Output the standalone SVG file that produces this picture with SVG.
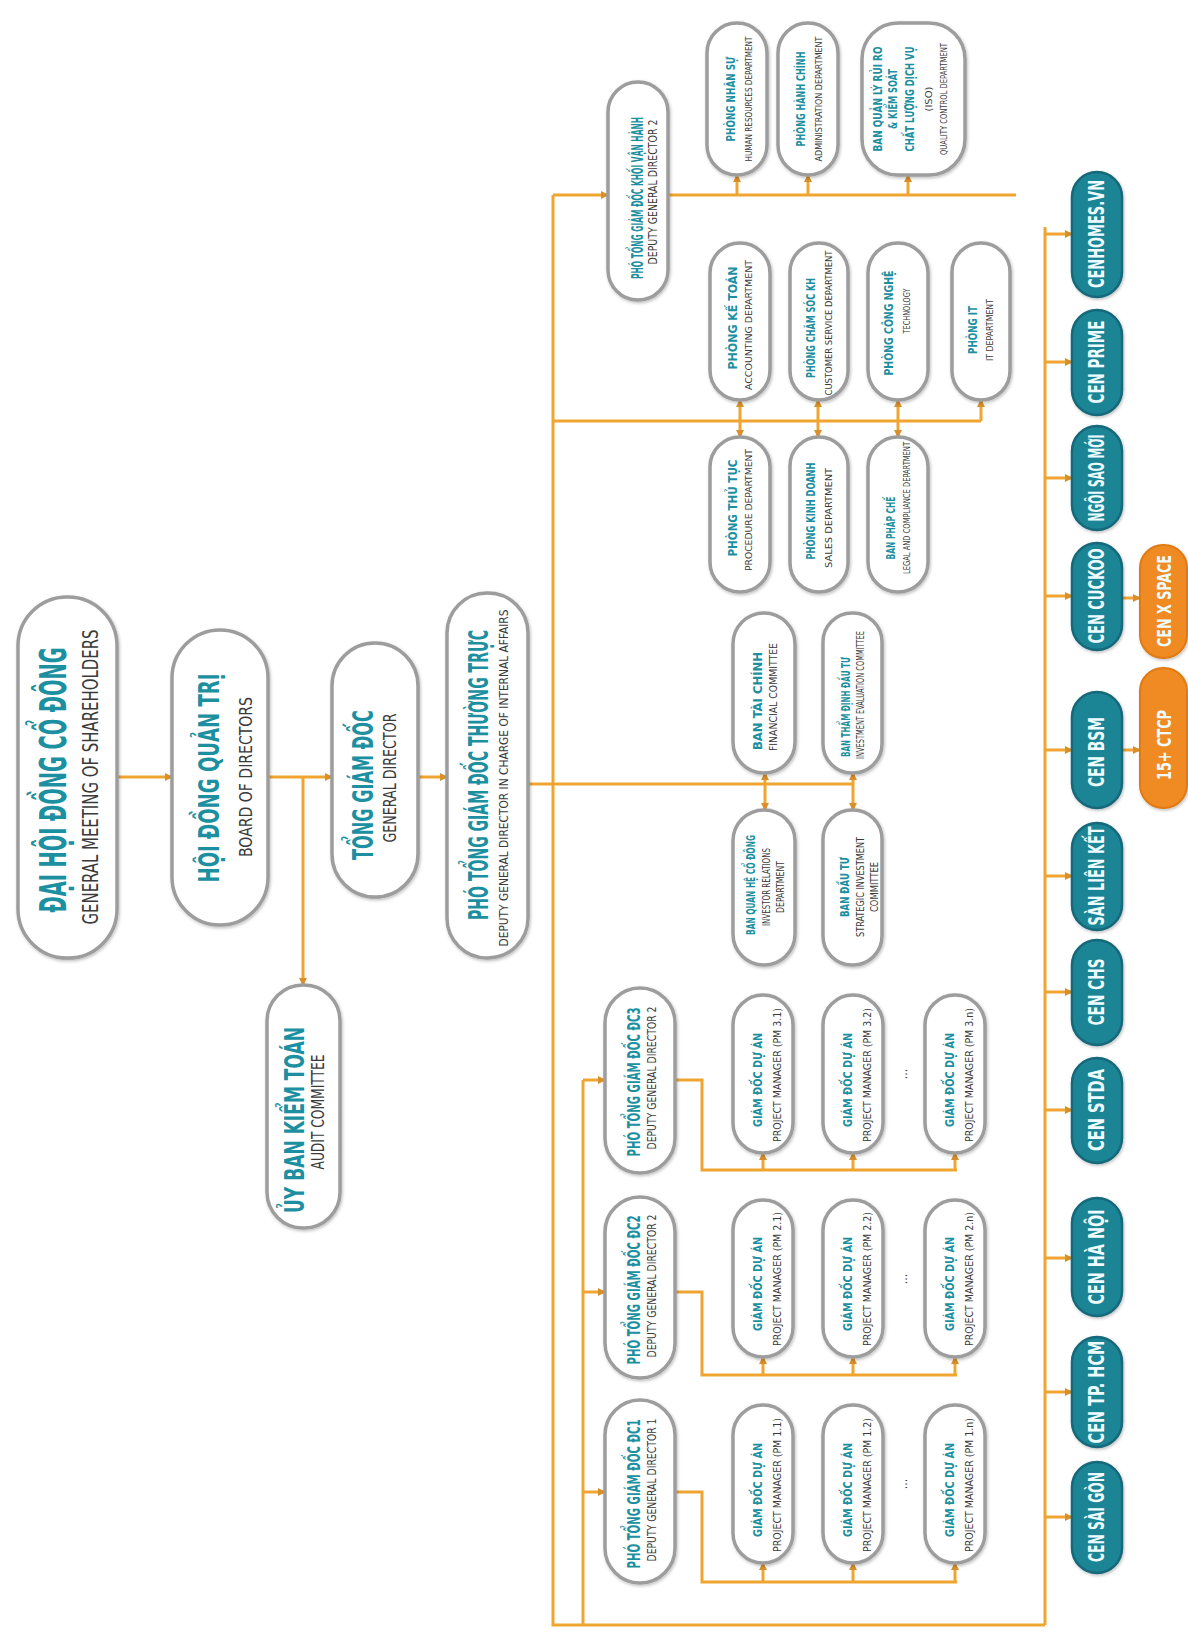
<svg xmlns="http://www.w3.org/2000/svg" width="1188" height="1634" viewBox="0 0 1188 1634">
<style>
.n{fill:#ffffff;stroke:#9d9d9d;stroke-width:3.5;filter:url(#sh)}
.t{fill:#1e8595;stroke:#14687a;stroke-width:2.5;filter:url(#sh)}
.o{fill:#f08a22;stroke:#e07a12;stroke-width:2;filter:url(#sh)}
.h{font-family:"Liberation Sans Narrow","DejaVu Sans Condensed","Liberation Sans",sans-serif;font-weight:bold;fill:#1c8fa0;text-anchor:middle}
.e{font-family:"Liberation Sans Narrow","DejaVu Sans Condensed","Liberation Sans",sans-serif;font-weight:normal;fill:#3a3a3a;text-anchor:middle}
.s{font-family:"Liberation Sans Narrow","DejaVu Sans Condensed","Liberation Sans",sans-serif;font-weight:bold;fill:#eefcff;text-anchor:middle}
.c{fill:none;stroke:#f0a531;stroke-width:3}
.ca{fill:none;stroke:#f0a531;stroke-width:3;marker-end:url(#a)}
</style>
<defs>
<filter id="sh" x="-20%" y="-20%" width="140%" height="140%"><feDropShadow dx="1" dy="1.5" stdDeviation="1.5" flood-color="#000" flood-opacity="0.25"/></filter>
<marker id="a" viewBox="0 0 8 8" refX="7" refY="4" markerWidth="8" markerHeight="8" orient="auto" markerUnits="userSpaceOnUse"><path d="M0,0 L8,4 L0,8 z" fill="#d9902b"/></marker>
</defs>
<rect width="1188" height="1634" fill="#ffffff"/>

<g id="connectors">
<path class="ca" d="M117,777 H172"/>
<path class="ca" d="M268,777 H332"/>
<path class="ca" d="M303,777 V985"/>
<path class="ca" d="M418,777 H447"/>
<path class="c" d="M528,784 H853"/>
<path class="ca" d="M765,784 V773"/>
<path class="ca" d="M765,784 V810"/>
<path class="ca" d="M853,784 V773"/>
<path class="ca" d="M853,784 V810"/>
<path class="c" d="M553,195 V1625 H1045"/>
<path class="ca" d="M553,195 H608"/>
<path class="c" d="M668,195 H1016"/>
<path class="ca" d="M737,195 V175"/>
<path class="ca" d="M808,195 V175"/>
<path class="ca" d="M908,195 V175"/>
<path class="c" d="M553,421 H981"/>
<path class="ca" d="M981,421 V400"/>
<path class="ca" d="M740,421 V400"/>
<path class="ca" d="M818,421 V400"/>
<path class="ca" d="M898,421 V400"/>
<path class="ca" d="M740,421 V437"/>
<path class="ca" d="M818,421 V437"/>
<path class="ca" d="M898,421 V437"/>
<path class="c" d="M583,1080 V1625"/>
<path class="ca" d="M583,1080 H605"/>
<path class="ca" d="M583,1292 H605"/>
<path class="ca" d="M583,1492 H605"/>
<path class="c" d="M675,1080 H702 V1170 H957"/>
<path class="ca" d="M763,1170 V1153"/>
<path class="ca" d="M853,1170 V1153"/>
<path class="ca" d="M955,1170 V1153"/>
<path class="c" d="M675,1292 H702 V1375 H957"/>
<path class="ca" d="M763,1375 V1357"/>
<path class="ca" d="M853,1375 V1357"/>
<path class="ca" d="M955,1375 V1357"/>
<path class="c" d="M675,1492 H702 V1582 H957"/>
<path class="ca" d="M763,1582 V1563"/>
<path class="ca" d="M853,1582 V1563"/>
<path class="ca" d="M955,1582 V1563"/>
<path class="c" d="M1045,227 V1625"/>
<path class="ca" d="M1045,234 H1072"/>
<path class="ca" d="M1045,362 H1072"/>
<path class="ca" d="M1045,478 H1072"/>
<path class="ca" d="M1045,596 H1072"/>
<path class="ca" d="M1045,750 H1072"/>
<path class="ca" d="M1045,876 H1072"/>
<path class="ca" d="M1045,992 H1072"/>
<path class="ca" d="M1045,1110 H1072"/>
<path class="ca" d="M1045,1258 H1072"/>
<path class="ca" d="M1045,1392 H1072"/>
<path class="ca" d="M1045,1517 H1072"/>
<path class="ca" d="M1122,598 H1140"/>
<path class="ca" d="M1122,750 H1140"/>
</g>

<g id="dhdcd"><rect class="n" x="18" y="597" width="99" height="361" rx="49"/>
<text class="h" font-size="37" textLength="265" lengthAdjust="spacingAndGlyphs" transform="translate(66,780) rotate(-90)">ĐẠI HỘI ĐỒNG CỔ ĐÔNG</text>
<text class="e" font-size="21" textLength="295" lengthAdjust="spacingAndGlyphs" transform="translate(98,777) rotate(-90)">GENERAL MEETING OF SHAREHOLDERS</text></g>

<g id="hdqt"><rect class="n" x="172" y="630" width="96" height="295" rx="48"/>
<text class="h" font-size="29" textLength="209" lengthAdjust="spacingAndGlyphs" transform="translate(219,778) rotate(-90)">HỘI ĐỒNG QUẢN TRỊ</text>
<text class="e" font-size="18" textLength="160" lengthAdjust="spacingAndGlyphs" transform="translate(252,777) rotate(-90)">BOARD OF DIRECTORS</text></g>

<g id="tgd"><rect class="n" x="332" y="643" width="86" height="254" rx="43"/>
<text class="h" font-size="28" textLength="150" lengthAdjust="spacingAndGlyphs" transform="translate(373,785) rotate(-90)">TỔNG GIÁM ĐỐC</text>
<text class="e" font-size="18" textLength="129" lengthAdjust="spacingAndGlyphs" transform="translate(396,778) rotate(-90)">GENERAL DIRECTOR</text></g>

<g id="ptgdtt"><rect class="n" x="447" y="593" width="81" height="365" rx="40"/>
<text class="h" font-size="26" textLength="290" lengthAdjust="spacingAndGlyphs" transform="translate(488,775) rotate(-90)">PHÓ TỔNG GIÁM ĐỐC THƯỜNG TRỰC</text>
<text class="e" font-size="13" textLength="337" lengthAdjust="spacingAndGlyphs" transform="translate(508,778) rotate(-90)">DEPUTY GENERAL DIRECTOR IN CHARGE OF INTERNAL AFFAIRS</text></g>

<g id="audit"><rect class="n" x="267" y="985" width="73" height="243" rx="36"/>
<text class="h" font-size="26" textLength="186" lengthAdjust="spacingAndGlyphs" transform="translate(304,1120) rotate(-90)">ỦY BAN KIỂM TOÁN</text>
<text class="e" font-size="17" textLength="115" lengthAdjust="spacingAndGlyphs" transform="translate(324,1112) rotate(-90)">AUDIT COMMITTEE</text></g>

<g id="ptgd-top"><rect class="n" x="608" y="82" width="60" height="218" rx="30"/>
<text class="h" font-size="15" textLength="162" lengthAdjust="spacingAndGlyphs" transform="translate(643,198) rotate(-90)">PHÓ TỔNG GIÁM ĐỐC KHỐI VẬN HÀNH</text>
<text class="e" font-size="12" textLength="145" lengthAdjust="spacingAndGlyphs" transform="translate(657,192) rotate(-90)">DEPUTY GENERAL DIRECTOR 2</text></g>

<g id="ns"><rect class="n" x="707" y="23" width="60" height="152" rx="30"/>
<text class="h" font-size="13" textLength="85" lengthAdjust="spacingAndGlyphs" transform="translate(735,99) rotate(-90)">PHÒNG NHÂN SỰ</text>
<text class="e" font-size="9.5" textLength="125" lengthAdjust="spacingAndGlyphs" transform="translate(752,99) rotate(-90)">HUMAN RESOURCES DEPARTMENT</text></g>

<g id="hc"><rect class="n" x="778" y="23" width="60" height="152" rx="30"/>
<text class="h" font-size="13" textLength="95" lengthAdjust="spacingAndGlyphs" transform="translate(805,99) rotate(-90)">PHÒNG HÀNH CHÍNH</text>
<text class="e" font-size="9.5" textLength="125" lengthAdjust="spacingAndGlyphs" transform="translate(822,99) rotate(-90)">ADMINISTRATION DEPARTMENT</text></g>

<g id="ql"><rect class="n" x="862" y="23" width="103" height="152" rx="36"/>
<text class="h" font-size="12" textLength="105" lengthAdjust="spacingAndGlyphs" transform="translate(882,99) rotate(-90)">BAN QUẢN LÝ RỦI RO</text>
<text class="h" font-size="12" textLength="60" lengthAdjust="spacingAndGlyphs" transform="translate(897,99) rotate(-90)">&amp; KIỂM SOÁT</text>
<text class="h" font-size="12" textLength="105" lengthAdjust="spacingAndGlyphs" transform="translate(914,99) rotate(-90)">CHẤT LƯỢNG DỊCH VỤ</text>
<text class="e" font-size="9.5" textLength="25" lengthAdjust="spacingAndGlyphs" transform="translate(932,99) rotate(-90)">(ISO)</text>
<text class="e" font-size="9.5" textLength="112" lengthAdjust="spacingAndGlyphs" transform="translate(947,99) rotate(-90)">QUALITY CONTROL DEPARTMENT</text></g>

<g id="kt"><rect class="n" x="710" y="243" width="60" height="157" rx="30"/>
<text class="h" font-size="13" textLength="103" lengthAdjust="spacingAndGlyphs" transform="translate(737,318) rotate(-90)">PHÒNG KẾ TOÁN</text>
<text class="e" font-size="9.5" textLength="130" lengthAdjust="spacingAndGlyphs" transform="translate(752,325) rotate(-90)">ACCOUNTING DEPARTMENT</text></g>

<g id="cskh"><rect class="n" x="790" y="243" width="58" height="157" rx="29"/>
<text class="h" font-size="13" textLength="100" lengthAdjust="spacingAndGlyphs" transform="translate(815,328) rotate(-90)">PHÒNG CHĂM SÓC KH</text>
<text class="e" font-size="9.5" textLength="145" lengthAdjust="spacingAndGlyphs" transform="translate(832,323) rotate(-90)">CUSTOMER SERVICE DEPARTMENT</text></g>

<g id="cn"><rect class="n" x="868" y="243" width="60" height="157" rx="30"/>
<text class="h" font-size="13" textLength="105" lengthAdjust="spacingAndGlyphs" transform="translate(893,323) rotate(-90)">PHÒNG CÔNG NGHỆ</text>
<text class="e" font-size="9.5" textLength="45" lengthAdjust="spacingAndGlyphs" transform="translate(910,311) rotate(-90)">TECHNOLOGY</text></g>

<g id="it"><rect class="n" x="952" y="243" width="58" height="157" rx="29"/>
<text class="h" font-size="13" textLength="48" lengthAdjust="spacingAndGlyphs" transform="translate(977,330) rotate(-90)">PHÒNG IT</text>
<text class="e" font-size="9.5" textLength="62" lengthAdjust="spacingAndGlyphs" transform="translate(993,330) rotate(-90)">IT DEPARTMENT</text></g>

<g id="tt"><rect class="n" x="710" y="437" width="60" height="155" rx="30"/>
<text class="h" font-size="13" textLength="97" lengthAdjust="spacingAndGlyphs" transform="translate(737,508) rotate(-90)">PHÒNG THỦ TỤC</text>
<text class="e" font-size="9.5" textLength="122" lengthAdjust="spacingAndGlyphs" transform="translate(752,510) rotate(-90)">PROCEDURE DEPARTMENT</text></g>

<g id="kd"><rect class="n" x="790" y="437" width="58" height="155" rx="29"/>
<text class="h" font-size="13" textLength="97" lengthAdjust="spacingAndGlyphs" transform="translate(815,511) rotate(-90)">PHÒNG KINH DOANH</text>
<text class="e" font-size="9.5" textLength="100" lengthAdjust="spacingAndGlyphs" transform="translate(832,518) rotate(-90)">SALES DEPARTMENT</text></g>

<g id="pc"><rect class="n" x="868" y="437" width="60" height="155" rx="30"/>
<text class="h" font-size="13" textLength="63" lengthAdjust="spacingAndGlyphs" transform="translate(895,528) rotate(-90)">BAN PHÁP CHẾ</text>
<text class="e" font-size="9.5" textLength="132" lengthAdjust="spacingAndGlyphs" transform="translate(910,508) rotate(-90)">LEGAL AND COMPLIANCE DEPARTMENT</text></g>

<g id="btc"><rect class="n" x="733" y="613" width="62" height="160" rx="31"/>
<text class="h" font-size="13" textLength="98" lengthAdjust="spacingAndGlyphs" transform="translate(762,701) rotate(-90)">BAN TÀI CHÍNH</text>
<text class="e" font-size="10" textLength="108" lengthAdjust="spacingAndGlyphs" transform="translate(777,697) rotate(-90)">FINANCIAL COMMITTEE</text></g>

<g id="btd"><rect class="n" x="823" y="613" width="59" height="160" rx="29"/>
<text class="h" font-size="13" textLength="100" lengthAdjust="spacingAndGlyphs" transform="translate(850,707) rotate(-90)">BAN THẨM ĐỊNH ĐẦU TƯ</text>
<text class="e" font-size="10" textLength="128" lengthAdjust="spacingAndGlyphs" transform="translate(864,695) rotate(-90)">INVESTMENT EVALUATION COMMITTEE</text></g>

<g id="bqhcd"><rect class="n" x="733" y="810" width="62" height="155" rx="31"/>
<text class="h" font-size="12" textLength="100" lengthAdjust="spacingAndGlyphs" transform="translate(755,885) rotate(-90)">BAN QUAN HỆ CỔ ĐÔNG</text>
<text class="e" font-size="10" textLength="78" lengthAdjust="spacingAndGlyphs" transform="translate(770,887) rotate(-90)">INVESTOR RELATIONS</text>
<text class="e" font-size="10" textLength="52" lengthAdjust="spacingAndGlyphs" transform="translate(784,887) rotate(-90)">DEPARTMENT</text></g>

<g id="bdt"><rect class="n" x="823" y="810" width="59" height="155" rx="29"/>
<text class="h" font-size="12" textLength="60" lengthAdjust="spacingAndGlyphs" transform="translate(849,887) rotate(-90)">BAN ĐẦU TƯ</text>
<text class="e" font-size="10" textLength="100" lengthAdjust="spacingAndGlyphs" transform="translate(864,887) rotate(-90)">STRATEGIC INVESTMENT</text>
<text class="e" font-size="10" textLength="50" lengthAdjust="spacingAndGlyphs" transform="translate(878,887) rotate(-90)">COMMITTEE</text></g>

<g id="dc3"><rect class="n" x="605" y="988" width="70" height="185" rx="35"/>
<text class="h" font-size="17" textLength="149" lengthAdjust="spacingAndGlyphs" transform="translate(640,1082) rotate(-90)">PHÓ TỔNG GIÁM ĐỐC ĐC3</text>
<text class="e" font-size="12" textLength="143" lengthAdjust="spacingAndGlyphs" transform="translate(656,1078) rotate(-90)">DEPUTY GENERAL DIRECTOR 2</text></g>

<g id="dc2"><rect class="n" x="605" y="1197" width="70" height="181" rx="35"/>
<text class="h" font-size="17" textLength="149" lengthAdjust="spacingAndGlyphs" transform="translate(640,1290) rotate(-90)">PHÓ TỔNG GIÁM ĐỐC ĐC2</text>
<text class="e" font-size="12" textLength="143" lengthAdjust="spacingAndGlyphs" transform="translate(656,1286) rotate(-90)">DEPUTY GENERAL DIRECTOR 2</text></g>

<g id="dc1"><rect class="n" x="605" y="1400" width="70" height="183" rx="35"/>
<text class="h" font-size="17" textLength="149" lengthAdjust="spacingAndGlyphs" transform="translate(640,1494) rotate(-90)">PHÓ TỔNG GIÁM ĐỐC ĐC1</text>
<text class="e" font-size="12" textLength="143" lengthAdjust="spacingAndGlyphs" transform="translate(656,1490) rotate(-90)">DEPUTY GENERAL DIRECTOR 1</text></g>

<g id="pm31"><rect class="n" x="733" y="995" width="60" height="158" rx="30"/>
<text class="h" font-size="13" textLength="94" lengthAdjust="spacingAndGlyphs" transform="translate(762,1080) rotate(-90)">GIÁM ĐỐC DỰ ÁN</text>
<text class="e" font-size="10" textLength="134" lengthAdjust="spacingAndGlyphs" transform="translate(781,1075) rotate(-90)">PROJECT MANAGER (PM 3.1)</text></g>
<g id="pm32"><rect class="n" x="823" y="995" width="60" height="158" rx="30"/>
<text class="h" font-size="13" textLength="94" lengthAdjust="spacingAndGlyphs" transform="translate(852,1080) rotate(-90)">GIÁM ĐỐC DỰ ÁN</text>
<text class="e" font-size="10" textLength="134" lengthAdjust="spacingAndGlyphs" transform="translate(871,1075) rotate(-90)">PROJECT MANAGER (PM 3.2)</text></g>
<g id="pm3n"><rect class="n" x="925" y="995" width="60" height="158" rx="30"/>
<text class="h" font-size="13" textLength="94" lengthAdjust="spacingAndGlyphs" transform="translate(954,1080) rotate(-90)">GIÁM ĐỐC DỰ ÁN</text>
<text class="e" font-size="10" textLength="134" lengthAdjust="spacingAndGlyphs" transform="translate(973,1075) rotate(-90)">PROJECT MANAGER (PM 3.n)</text></g>

<g id="pm21"><rect class="n" x="733" y="1200" width="60" height="157" rx="30"/>
<text class="h" font-size="13" textLength="94" lengthAdjust="spacingAndGlyphs" transform="translate(762,1284) rotate(-90)">GIÁM ĐỐC DỰ ÁN</text>
<text class="e" font-size="10" textLength="134" lengthAdjust="spacingAndGlyphs" transform="translate(781,1279) rotate(-90)">PROJECT MANAGER (PM 2.1)</text></g>
<g id="pm22"><rect class="n" x="823" y="1200" width="60" height="157" rx="30"/>
<text class="h" font-size="13" textLength="94" lengthAdjust="spacingAndGlyphs" transform="translate(852,1284) rotate(-90)">GIÁM ĐỐC DỰ ÁN</text>
<text class="e" font-size="10" textLength="134" lengthAdjust="spacingAndGlyphs" transform="translate(871,1279) rotate(-90)">PROJECT MANAGER (PM 2.2)</text></g>
<g id="pm2n"><rect class="n" x="925" y="1200" width="60" height="157" rx="30"/>
<text class="h" font-size="13" textLength="94" lengthAdjust="spacingAndGlyphs" transform="translate(954,1284) rotate(-90)">GIÁM ĐỐC DỰ ÁN</text>
<text class="e" font-size="10" textLength="134" lengthAdjust="spacingAndGlyphs" transform="translate(973,1279) rotate(-90)">PROJECT MANAGER (PM 2.n)</text></g>

<g id="pm11"><rect class="n" x="733" y="1405" width="60" height="158" rx="30"/>
<text class="h" font-size="13" textLength="94" lengthAdjust="spacingAndGlyphs" transform="translate(762,1490) rotate(-90)">GIÁM ĐỐC DỰ ÁN</text>
<text class="e" font-size="10" textLength="134" lengthAdjust="spacingAndGlyphs" transform="translate(781,1485) rotate(-90)">PROJECT MANAGER (PM 1.1)</text></g>
<g id="pm12"><rect class="n" x="823" y="1405" width="60" height="158" rx="30"/>
<text class="h" font-size="13" textLength="94" lengthAdjust="spacingAndGlyphs" transform="translate(852,1490) rotate(-90)">GIÁM ĐỐC DỰ ÁN</text>
<text class="e" font-size="10" textLength="134" lengthAdjust="spacingAndGlyphs" transform="translate(871,1485) rotate(-90)">PROJECT MANAGER (PM 1.2)</text></g>
<g id="pm1n"><rect class="n" x="925" y="1405" width="60" height="158" rx="30"/>
<text class="h" font-size="13" textLength="94" lengthAdjust="spacingAndGlyphs" transform="translate(954,1490) rotate(-90)">GIÁM ĐỐC DỰ ÁN</text>
<text class="e" font-size="10" textLength="134" lengthAdjust="spacingAndGlyphs" transform="translate(973,1485) rotate(-90)">PROJECT MANAGER (PM 1.n)</text></g>

<g id="dots">
<text class="e" font-size="12" transform="translate(907,1074) rotate(-90)">...</text>
<text class="e" font-size="12" transform="translate(907,1279) rotate(-90)">...</text>
<text class="e" font-size="12" transform="translate(907,1484) rotate(-90)">...</text>
</g>

<g id="cenhomes"><rect class="t" x="1072" y="172" width="50" height="125" rx="25"/><text class="s" font-size="21" textLength="108" lengthAdjust="spacingAndGlyphs" transform="translate(1104,234) rotate(-90)">CENHOMES.VN</text></g>
<g id="cenprime"><rect class="t" x="1072" y="310" width="50" height="105" rx="25"/><text class="s" font-size="21" textLength="83" lengthAdjust="spacingAndGlyphs" transform="translate(1104,362) rotate(-90)">CEN PRIME</text></g>
<g id="ngoisaomoi"><rect class="t" x="1072" y="426" width="50" height="104" rx="25"/><text class="s" font-size="21" textLength="87" lengthAdjust="spacingAndGlyphs" transform="translate(1104,478) rotate(-90)">NGÔI SAO MỚI</text></g>
<g id="cencuckoo"><rect class="t" x="1072" y="543" width="50" height="107" rx="25"/><text class="s" font-size="21" textLength="95" lengthAdjust="spacingAndGlyphs" transform="translate(1104,596) rotate(-90)">CEN CUCKOO</text></g>
<g id="cenbsm"><rect class="t" x="1072" y="692" width="50" height="116" rx="25"/><text class="s" font-size="21" textLength="70" lengthAdjust="spacingAndGlyphs" transform="translate(1104,752) rotate(-90)">CEN BSM</text></g>
<g id="sanlienket"><rect class="t" x="1072" y="823" width="50" height="107" rx="25"/><text class="s" font-size="21" textLength="99" lengthAdjust="spacingAndGlyphs" transform="translate(1104,876) rotate(-90)">SÀN LIÊN KẾT</text></g>
<g id="cenchs"><rect class="t" x="1072" y="940" width="50" height="105" rx="25"/><text class="s" font-size="21" textLength="67" lengthAdjust="spacingAndGlyphs" transform="translate(1104,992) rotate(-90)">CEN CHS</text></g>
<g id="censtda"><rect class="t" x="1072" y="1058" width="50" height="105" rx="25"/><text class="s" font-size="21" textLength="82" lengthAdjust="spacingAndGlyphs" transform="translate(1104,1110) rotate(-90)">CEN STDA</text></g>
<g id="cenhanoi"><rect class="t" x="1072" y="1198" width="50" height="118" rx="25"/><text class="s" font-size="21" textLength="95" lengthAdjust="spacingAndGlyphs" transform="translate(1104,1257) rotate(-90)">CEN HÀ NỘI</text></g>
<g id="cenhcm"><rect class="t" x="1072" y="1337" width="50" height="110" rx="25"/><text class="s" font-size="21" textLength="103" lengthAdjust="spacingAndGlyphs" transform="translate(1104,1392) rotate(-90)">CEN TP. HCM</text></g>
<g id="censaigon"><rect class="t" x="1072" y="1462" width="50" height="111" rx="25"/><text class="s" font-size="21" textLength="90" lengthAdjust="spacingAndGlyphs" transform="translate(1104,1517) rotate(-90)">CEN SÀI GÒN</text></g>
<g id="cenxspace"><rect class="o" x="1140" y="545" width="47" height="113" rx="23"/><text class="s" font-size="20" textLength="92" lengthAdjust="spacingAndGlyphs" transform="translate(1171,601) rotate(-90)">CEN X SPACE</text></g>
<g id="ctcp"><rect class="o" x="1140" y="668" width="47" height="140" rx="23"/><text class="s" font-size="20" textLength="70" lengthAdjust="spacingAndGlyphs" transform="translate(1171,745) rotate(-90)">15+ CTCP</text></g>
</svg>
